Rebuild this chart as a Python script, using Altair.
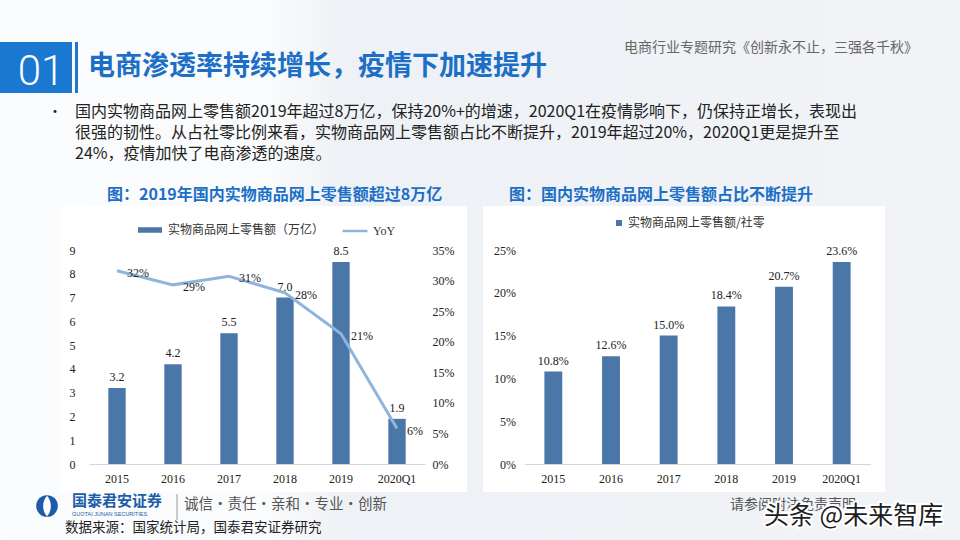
import altair as alt
import pandas as pd

# ---- data -----------------------------------------------------------------
periods = ["2015", "2016", "2017", "2018", "2019", "2020Q1"]
sales_trn = [3.2, 4.2, 5.5, 7.0, 8.5, 1.9]                 # 万亿元
sales_yoy = [0.316, 0.293, 0.307, 0.280, 0.213, 0.058]     # 同比
share_of_retail = [0.108, 0.126, 0.150, 0.184, 0.207, 0.236]

sales_series = "实物商品网上零售额（万亿）"
yoy_series = "YoY"
share_series = "实物商品网上零售额/社零"

sales_ticks = list(range(10))
yoy_ticks = [0, 0.05, 0.10, 0.15, 0.20, 0.25, 0.30, 0.35]
share_ticks = [0, 0.05, 0.10, 0.15, 0.20, 0.25]

heading = "电商渗透率持续增长，疫情下加速提升"
section_no = "01"
report_tag = "电商行业专题研究《创新永不止，三强各千秋》"
bullet_lines = [
    "国内实物商品网上零售额2019年超过8万亿，保持20%+的增速，2020Q1在疫情影响下，仍保持正增长，表现出",
    "很强的韧性。从占社零比例来看，实物商品网上零售额占比不断提升，2019年超过20%，2020Q1更是提升至",
    "24%，疫情加快了电商渗透的速度。",
]
left_title = "图：2019年国内实物商品网上零售额超过8万亿"
right_title = "图：国内实物商品网上零售额占比不断提升"
firm_name = "国泰君安证券"
firm_name_en = "GUOTAI JUNAN SECURITIES"
firm_motto = "诚信·责任·亲和·专业·创新"
source_note = "数据来源：国家统计局，国泰君安证券研究"
disclaimer = "请参阅附注免责声明"
watermark = "头条 @未来智库"

# ---- styles ---------------------------------------------------------------
CJK = "Noto Sans CJK SC"
SERIF = "Liberation Serif"
BAR = "#4a76a8"
LINE = "#8fb4de"
BLUE = "#1c6fc6"
DARK = "#222222"

left_df = pd.DataFrame({
    "period": periods,
    "sales": sales_trn,
    "yoy": sales_yoy,
    "series": [sales_series] * len(periods),
    "line_series": [yoy_series] * len(periods),
})
right_df = pd.DataFrame({
    "period": periods,
    "share": share_of_retail,
    "series": [share_series] * len(periods),
})


def one_row():
    return alt.Data(values=[{"k": 0}])


def text_at(txt, x, y, size, color=DARK, font=CJK, weight="normal",
            align="left", baseline="middle", **extra):
    return alt.Chart(one_row()).mark_text(
        text=txt, font=font, fontSize=size, fontWeight=weight, color=color,
        align=align, baseline=baseline, **extra
    ).encode(x=alt.value(x), y=alt.value(y))


def box(x0, x1, y0, y1, fill, **extra):
    return alt.Chart(one_row()).mark_rect(color=fill, **extra).encode(
        x=alt.value(x0), x2=alt.value(x1), y=alt.value(y0), y2=alt.value(y1)
    )


# axes are drawn above the slide backdrop (zindex=1)
def axis(**kw):
    return alt.Axis(title=None, ticks=False, grid=False, zindex=1, **kw)


# ---- left panel: sales bars + YoY line -----------------------------------
x_left_scale = alt.Scale(domain=periods, range=[89, 425],
                         paddingInner=0.69, paddingOuter=0.345)
x_left_axis = axis(orient="bottom", offset=-76, labelAngle=0,
                   domainColor="#d6d6d6", labelPadding=9)


def x_left(**kw):
    return alt.X("period:N", sort=periods, scale=x_left_scale,
                 axis=x_left_axis, **kw)


y_sales = alt.Y(
    "sales:Q",
    scale=alt.Scale(domain=[0, 9], range=[464, 250], nice=False),
    axis=axis(orient="left", offset=-89, values=sales_ticks, domain=False,
              labelPadding=14, format="d"),
)
y_yoy = alt.Y(
    "yoy:Q",
    scale=alt.Scale(domain=[0, 0.35], range=[464, 250], nice=False),
    axis=axis(orient="right", offset=-535, values=yoy_ticks, domain=False,
              labelPadding=7, format=".0%"),
)

sales_bars = alt.Chart(left_df).mark_bar().encode(
    x=x_left(),
    y=y_sales,
    color=alt.Color(
        "series:N",
        scale=alt.Scale(domain=[sales_series], range=[BAR]),
        legend=alt.Legend(title=None, orient="none", legendX=137, legendY=217,
                          symbolType="M-1,-0.23H1V0.23H-1Z", symbolSize=576,
                          labelFont=CJK, labelFontSize=12, labelColor="#333333",
                          labelOffset=5, padding=0),
    ),
)
sales_labels = alt.Chart(left_df).mark_text(
    font=SERIF, fontSize=12, color=DARK, dy=-11, baseline="middle"
).encode(x=x_left(bandPosition=0.5), y=y_sales,
         text=alt.Text("sales:Q", format=".1f"))

yoy_line = alt.Chart(left_df).mark_line(strokeWidth=3).encode(
    x=x_left(bandPosition=0.5),
    y=y_yoy,
    stroke=alt.Stroke(
        "line_series:N",
        scale=alt.Scale(domain=[yoy_series], range=[LINE]),
        legend=alt.Legend(title=None, orient="none", legendX=341, legendY=217,
                          symbolType="M-1,0H1", symbolSize=625,
                          symbolStrokeWidth=2.5,
                          labelFont=SERIF, labelFontSize=12, labelColor="#333333",
                          labelOffset=4, padding=0),
    ),
)
yoy_labels = alt.Chart(left_df).mark_text(
    font=SERIF, fontSize=12, color=DARK, align="left", dx=10, dy=2,
    baseline="middle"
).encode(x=x_left(bandPosition=0.5), y=y_yoy,
         text=alt.Text("yoy:Q", format=".0%"))

left_chart = alt.layer(
    alt.layer(sales_bars, sales_labels),
    alt.layer(yoy_line, yoy_labels),
).resolve_scale(y="independent")

# ---- right panel: share of total retail ----------------------------------
x_right_scale = alt.Scale(domain=periods, range=[524.5, 870.5],
                          paddingInner=0.69, paddingOuter=0.345)
x_right_axis = axis(orient="bottom", offset=-76, labelAngle=0,
                    domainColor="#d6d6d6", labelPadding=9)


def x_right(**kw):
    return alt.X("period:N", sort=periods, scale=x_right_scale,
                 axis=x_right_axis, **kw)


y_share = alt.Y(
    "share:Q",
    scale=alt.Scale(domain=[0, 0.25], range=[464, 250], nice=False),
    axis=axis(orient="left", offset=-524.5, values=share_ticks, domain=False,
              labelPadding=9, format=".0%"),
)

share_bars = alt.Chart(right_df).mark_bar().encode(
    x=x_right(),
    y=y_share,
    fill=alt.Fill(
        "series:N",
        scale=alt.Scale(domain=[share_series], range=[BAR]),
        legend=alt.Legend(title=None, orient="none", legendX=613, legendY=217,
                          symbolType="square", symbolSize=36,
                          labelFont=CJK, labelFontSize=12, labelColor="#333333",
                          labelOffset=3, padding=0),
    ),
)
share_labels = alt.Chart(right_df).mark_text(
    font=SERIF, fontSize=12, color=DARK, dy=-11, baseline="middle"
).encode(x=x_right(bandPosition=0.5), y=y_share,
         text=alt.Text("share:Q", format=".1%"))

right_chart = alt.layer(share_bars, share_labels)

# ---- slide backdrop and furniture ----------------------------------------
backdrop = box(0, 960, 0, 540, alt.LinearGradient(
    gradient="linear", x1=0, x2=1, y1=0, y2=0,
    stops=[alt.GradientStop(offset=0, color="#fbfcfd"),
           alt.GradientStop(offset=0.28, color="#fafbfc"),
           alt.GradientStop(offset=0.36, color="#eef1f5"),
           alt.GradientStop(offset=1, color="#f1f3f7")]))
left_panel = box(60, 467, 206, 492, "#ffffff")
right_panel = box(483, 885, 206, 492, "#ffffff")
num_box = box(0, 72, 42, 93, "#1b78d0")
num_stripe = box(75, 78, 42, 93, "#1b78d0")

logo_disc = alt.Chart(one_row()).mark_circle(size=470, color="#1d5ca8", opacity=1).encode(
    x=alt.value(47), y=alt.value(506))
logo_lens = alt.Chart(one_row()).mark_point(
    shape="M0,-1C0.5,-0.5 0.5,0.5 0,1C-0.5,0.5 -0.5,-0.5 0,-1Z",
    size=420, filled=True, color="#ffffff", opacity=1).encode(
    x=alt.value(47), y=alt.value(506))
divider = alt.Chart(one_row()).mark_rule(color="#9a9a9a", strokeWidth=1).encode(
    x=alt.value(177), y=alt.value(494), y2=alt.value(520))

texts = [
    text_at(section_no, 41, 85, 42, color="#ffffff", font="Roboto",
            weight=300, align="center", baseline="alphabetic"),
    text_at(heading, 88, 67, 27, color=BLUE, weight="bold"),
    text_at(report_tag, 918, 48, 14, color="#666666", align="right"),
    text_at("•", 48, 112, 14, color=DARK),
]
for i, line in enumerate(bullet_lines):
    texts.append(text_at(line, 75, 112 + 21 * i, 16, color=DARK))
texts += [
    text_at(left_title, 107, 195, 16, color=BLUE, weight="bold"),
    text_at(right_title, 509, 195, 16, color=BLUE, weight="bold"),
    text_at(firm_name, 72, 501, 15, color="#1d5ca8", weight="bold"),
    text_at(firm_name_en, 72, 514, 5.5, color="#1d5ca8", font="Liberation Sans"),
    text_at(firm_motto, 184, 505, 14.5, color="#555555"),
    text_at(source_note, 65, 528, 13.5, color=DARK),
    text_at(disclaimer, 730, 505, 14, color="#555555"),
    text_at(watermark, 764, 516, 25, color="#ffffff", stroke="#ffffff",
            strokeWidth=4),
    text_at(watermark, 764, 516, 25, color="#1e1e1e"),
]

chart = alt.layer(
    backdrop, left_panel, right_panel, num_box, num_stripe,
    left_chart, right_chart,
    logo_disc, logo_lens, divider,
    *texts,
).resolve_scale(
    x="independent", y="independent"
).properties(
    width=960, height=540, padding=0,
    autosize=alt.AutoSizeParams(type="none"),
    background="#ffffff",
).configure_view(
    strokeWidth=0
).configure_axis(
    labelFont=SERIF, labelFontSize=12, labelColor=DARK
)

chart.save("out.html", embed_options={"renderer": "svg", "actions": False})
